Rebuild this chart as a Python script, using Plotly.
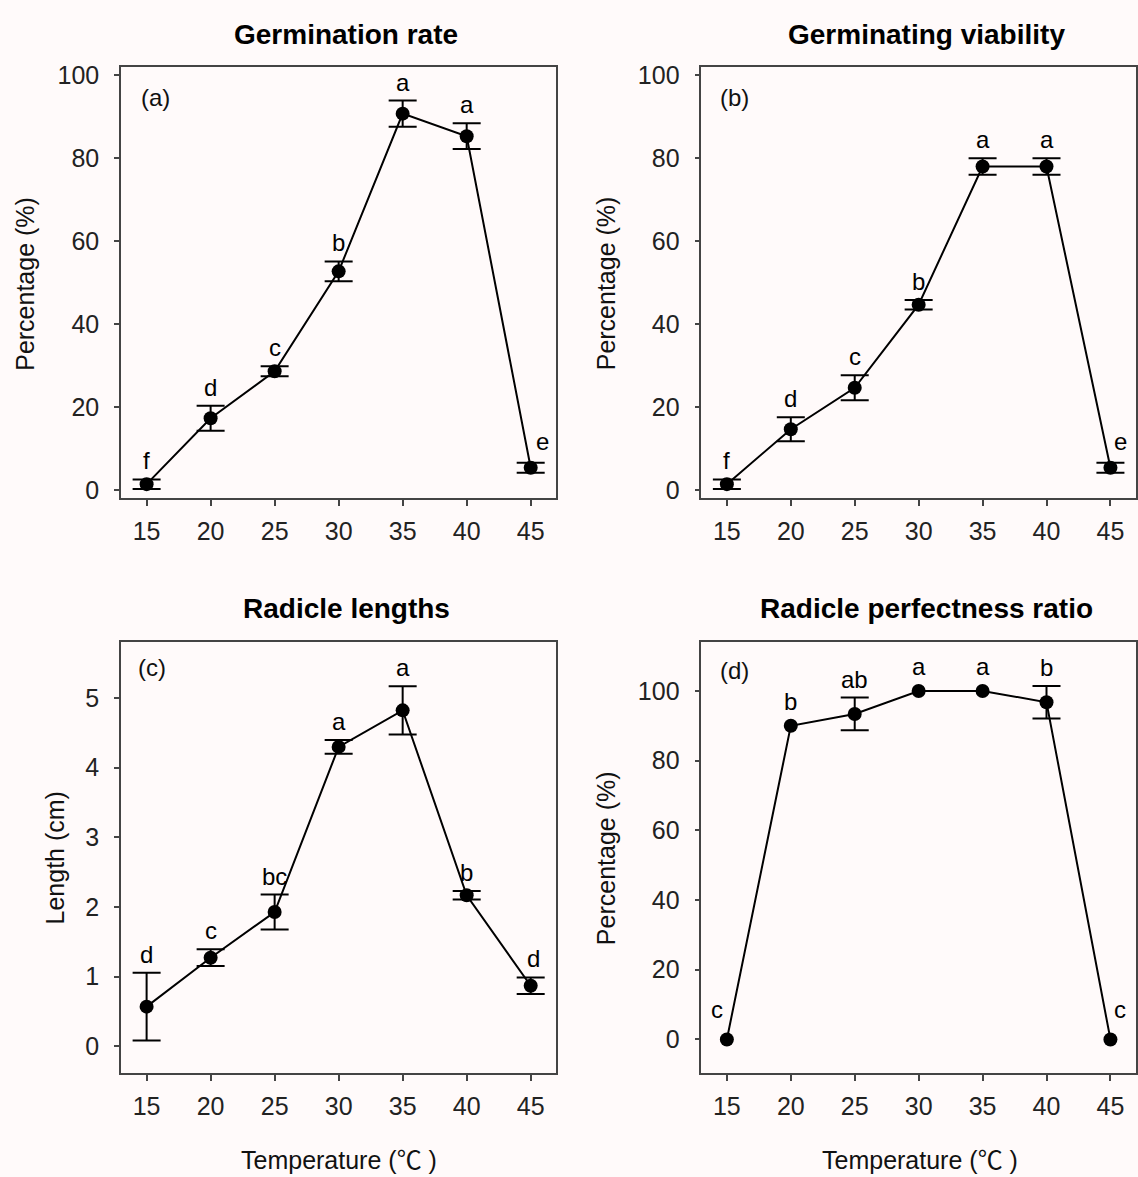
import plotly.graph_objects as go

# ---------------- data ----------------
temps = [15, 20, 25, 30, 35, 40, 45]

germ_rate = [1.35, 17.25, 28.6, 52.7, 90.75, 85.3, 5.3]
germ_rate_err = [1.15, 3.0, 1.2, 2.4, 3.15, 3.1, 1.2]
germ_rate_letters = ["f", "d", "c", "b", "a", "a", "e"]

germ_viab = [1.35, 14.6, 24.6, 44.65, 78.0, 78.0, 5.3]
germ_viab_err = [1.15, 2.9, 3.0, 1.15, 2.0, 2.0, 1.2]
germ_viab_letters = ["f", "d", "c", "b", "a", "a", "e"]

rad_len = [0.567, 1.27, 1.927, 4.30, 4.825, 2.168, 0.867]
rad_len_err = [0.486, 0.12, 0.25, 0.10, 0.347, 0.062, 0.12]
rad_len_letters = ["d", "c", "bc", "a", "a", "b", "d"]

rad_perf = [0, 90.0, 93.4, 100, 100, 96.75, 0]
rad_perf_err = [0, 0, 4.7, 0, 0, 4.65, 0]
rad_perf_letters = ["c", "b", "ab", "a", "a", "b", "c"]

panel_titles = ["Germination rate", "Germinating viability",
                "Radicle lengths", "Radicle perfectness ratio"]
panel_tags = ["(a)", "(b)", "(c)", "(d)"]
y_titles = ["Percentage (%)", "Percentage (%)", "Length (cm)", "Percentage (%)"]
x_title = "Temperature (<span style=\"font-family:'Noto Sans CJK SC'\">\u2103</span> )"
pct_ticks = [0, 20, 40, 60, 80, 100]
len_ticks = [0, 1, 2, 3, 4, 5]

# ---------------- layout geometry ----------------
W, H = 1138, 1177
FONT = "Liberation Sans, Arial, Helvetica, sans-serif"
BG = "#fffafa"

def px(x):
    return x / W

def py(y):
    return 1 - y / H

col_dom = [[px(121), px(556.3)], [px(701.3), px(1136)]]
row_dom = [[py(496.7), py(62)], [py(1077.3), py(642.5)]]

panels = [
    dict(y=germ_rate, e=germ_rate_err, L=germ_rate_letters, r=0, c=0,
         yr=[-2.0, 101.9], tv=pct_ticks, shifts={45: (12, 6)}),
    dict(y=germ_viab, e=germ_viab_err, L=germ_viab_letters, r=0, c=1,
         yr=[-2.0, 101.9], tv=pct_ticks, shifts={45: (10, 6)}),
    dict(y=rad_len, e=rad_len_err, L=rad_len_letters, r=1, c=0,
         yr=[-0.39, 5.8], tv=len_ticks, shifts={45: (3, 3)}),
    dict(y=rad_perf, e=rad_perf_err, L=rad_perf_letters, r=1, c=1,
         yr=[-9.7, 113.9], tv=pct_ticks, shifts={15: (-10, 14), 45: (10, 14)}),
]

fig = go.Figure()
annotations = []
layout = {}

for i, p in enumerate(panels):
    n = "" if i == 0 else str(i + 1)
    xa, ya = "x" + n, "y" + n
    # error bars only where an error exists
    ex = [t for t, e in zip(temps, p["e"]) if e > 0]
    ey = [v for v, e in zip(p["y"], p["e"]) if e > 0]
    ee = [e for e in p["e"] if e > 0]
    fig.add_trace(go.Scatter(
        x=ex, y=ey, xaxis=xa, yaxis=ya, mode="markers",
        marker=dict(color="black", size=1, opacity=0),
        error_y=dict(type="data", array=ee, visible=True,
                     color="black", thickness=2, width=14),
        showlegend=False, hoverinfo="skip",
    ))
    fig.add_trace(go.Scatter(
        x=temps, y=p["y"], xaxis=xa, yaxis=ya, mode="lines+markers",
        line=dict(color="black", width=2),
        marker=dict(color="black", size=14),
        showlegend=False, hoverinfo="skip",
    ))
    common = dict(showline=True, mirror=True, linecolor="#444444", linewidth=1.5,
                  showgrid=False, zeroline=False, ticks="outside",
                  tickcolor="#444444", tickwidth=1.5,
                  tickfont=dict(family=FONT, size=25, color="#222222"))
    layout["xaxis" + n] = dict(common, domain=col_dom[p["c"]], range=[13, 47],
                               tickvals=temps, ticklen=6, anchor=ya,
                               ticklabelstandoff=4)
    layout["yaxis" + n] = dict(common, domain=row_dom[p["r"]], range=p["yr"],
                               tickvals=p["tv"], ticklen=5, anchor=xa,
                               ticklabelstandoff=10)
    # significance letters
    for t, v, e, lab in zip(temps, p["y"], p["e"], p["L"]):
        xs, ys = p["shifts"].get(t, (0, 3 if e > 0 else 9))
        annotations.append(dict(
            x=t, y=v + e, xref=xa, yref=ya, text=lab, showarrow=False,
            yanchor="bottom", xanchor="center", xshift=xs, yshift=ys,
            font=dict(family=FONT, size=24, color="black")))

# paper-space texts: titles, panel tags, axis titles
title_pos = [(346, 29), (926, 29), (346, 608.6), (926, 608.6)]
tag_pos = [(155, 92), (734, 92), (152, 668), (734, 671)]
ytitle_pos = [(25.4, 280), (605.9, 280), (54.5, 860), (606.2, 860)]
xtitle_pos = [(339, 1162.5), (919.5, 1162.5)]

for i in range(4):
    annotations.append(dict(
        x=px(title_pos[i][0]), y=py(title_pos[i][1]), xref="paper", yref="paper",
        text="<b>%s</b>" % panel_titles[i], showarrow=False,
        xanchor="center", yanchor="middle",
        font=dict(family=FONT, size=28, color="black")))
    annotations.append(dict(
        x=px(tag_pos[i][0]), y=py(tag_pos[i][1]), xref="paper", yref="paper",
        text=panel_tags[i], showarrow=False, xanchor="center", yanchor="middle",
        font=dict(family=FONT, size=24, color="#111111")))
    annotations.append(dict(
        x=px(ytitle_pos[i][0]), y=py(ytitle_pos[i][1]), xref="paper", yref="paper",
        text=y_titles[i], showarrow=False, textangle=-90,
        xanchor="center", yanchor="middle",
        font=dict(family=FONT, size=25, color="#111111")))

for xp, yp in xtitle_pos:
    annotations.append(dict(
        x=px(xp), y=py(yp), xref="paper", yref="paper", text=x_title,
        showarrow=False, xanchor="center", yanchor="middle",
        font=dict(family=FONT, size=25, color="#111111")))

fig.update_layout(
    width=W, height=H, margin=dict(l=0, r=0, t=0, b=0),
    paper_bgcolor=BG, plot_bgcolor=BG,
    annotations=annotations, showlegend=False,
    **layout,
)

fig.write_html(
    "out.html",
    config={"displayModeBar": False},
    post_script="document.body.style.margin='0';document.body.style.background='%s';" % BG,
)
